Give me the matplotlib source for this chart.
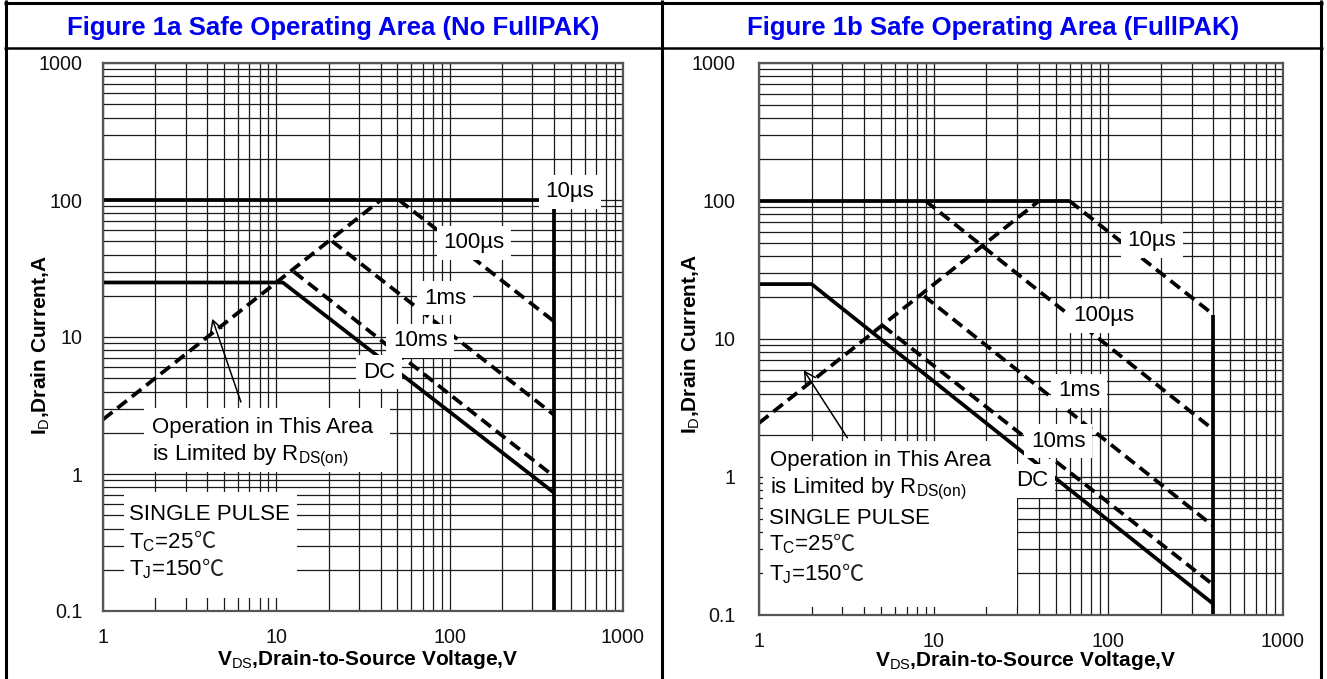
import numpy as np
import matplotlib
matplotlib.use("Agg")
import matplotlib.pyplot as plt
from matplotlib.lines import Line2D
from matplotlib.patches import Rectangle
from matplotlib.ticker import FixedLocator, LogLocator, NullFormatter
from matplotlib.offsetbox import TextArea, HPacker, AnnotationBbox

plt.rcParams['font.family'] = ['Liberation Sans', 'DejaVu Sans']
plt.rcParams['mathtext.fontset'] = 'custom'
plt.rcParams['mathtext.rm'] = 'Liberation Sans'
plt.rcParams['mathtext.it'] = 'Liberation Sans:italic'
plt.rcParams['mathtext.bf'] = 'Liberation Sans:bold'

# ---------------- data ----------------
titles = ["Figure 1a Safe Operating Area (No FullPAK)",
          "Figure 1b Safe Operating Area (FullPAK)"]
x_ticks = [1, 10, 100, 1000]
x_tick_labels = ["1", "10", "100", "1000"]
y_ticks = [0.1, 1, 10, 100, 1000]
y_tick_labels = ["0.1", "1", "10", "100", "1000"]
xlabel = r'V$_{\mathrm{DS}}$,Drain-to-Source Voltage,V'
ylabel = r'I$_{\mathrm{D}}$,Drain Current,A'

# Figure 1a (No FullPAK)
a_10us_v = [1, 400, 400]
a_10us_i = [100, 100, 0.1]
a_rds_v = [1, 40]
a_rds_i = [2.5, 100]
a_100us_v = [51, 400]
a_100us_i = [100, 13]
a_1ms_v = [21, 400]
a_1ms_i = [50, 2.7]
a_10ms_v = [12.6, 400]
a_10ms_i = [30, 0.96]
a_dc_v = [1, 10.9, 400]
a_dc_i = [25, 25, 0.73]

# Figure 1b (FullPAK)
b_10us_flat_v = [1, 60]
b_10us_flat_i = [100, 100]
b_10us_dash_v = [60, 400]
b_10us_dash_i = [100, 15]
b_vert_v = [400, 400]
b_vert_i = [15, 0.1]
b_rds_v = [1, 40]
b_rds_i = [2.46, 100]
b_100us_v = [9, 400]
b_100us_i = [100, 2.2]
b_1ms_v = [8.8, 400]
b_1ms_i = [20.5, 0.44]
b_10ms_v = [5.1, 400]
b_10ms_i = [12.5, 0.165]
b_dc_v = [1, 2, 400]
b_dc_i = [25, 25, 0.12]

# ---------------- style ----------------
W, H = 1327, 679
LW = 2.7
DASH = (3.2, 1.7)
FS_ANN = 16
FS_TICK = 14.2
FS_LAB = 15
FS_TITLE = 18.5
TITLE_COLOR = '#0000f0'

fig = plt.figure(figsize=(W / 100, H / 100), dpi=100)
fig.patch.set_facecolor('white')

ax1 = fig.add_axes([103 / W, 1 - 611 / H, 520 / W, 548 / H])
ax2 = fig.add_axes([759 / W, 1 - 615 / H, 524 / W, 552 / H])


def setup(ax, ypad, xlab_xy, ylab_xy):
    ax.set_xscale('log')
    ax.set_yscale('log')
    ax.set_xlim(1, 1000)
    ax.set_ylim(0.1, 1000)
    ax.xaxis.set_major_locator(FixedLocator(x_ticks))
    ax.yaxis.set_major_locator(FixedLocator(y_ticks))
    ax.set_xticklabels(x_tick_labels)
    ax.set_yticklabels(y_tick_labels)
    ax.xaxis.set_minor_locator(LogLocator(base=10, subs=np.arange(2, 10)))
    ax.yaxis.set_minor_locator(LogLocator(base=10, subs=np.arange(2, 10)))
    ax.xaxis.set_minor_formatter(NullFormatter())
    ax.yaxis.set_minor_formatter(NullFormatter())
    ax.tick_params(which='both', length=0, labelsize=FS_TICK, colors='#111111')
    ax.tick_params(axis='x', pad=12.5)
    ax.tick_params(axis='y', pad=ypad)
    ax.set_axisbelow(True)
    ax.grid(True, which='both', color='#1a1a1a', lw=0.9)
    for s in ax.spines.values():
        s.set_color('#555555')
        s.set_linewidth(1.6)
    ax.set_xlabel(xlabel, fontsize=FS_LAB, fontweight='bold')
    ax.set_ylabel(ylabel, fontsize=FS_LAB, fontweight='bold')
    ax.xaxis.set_label_coords(*xlab_xy)
    ax.yaxis.set_label_coords(*ylab_xy)
    ax.xaxis.label.set_va('center')
    ax.yaxis.label.set_va('center')


setup(ax1, 15, (0.508, -0.089), (-0.119, 0.485))
setup(ax2, 17, (0.508, -0.083), (-0.13, 0.491))


def solid(ax, v, i):
    ax.plot(v, i, color='black', lw=LW, solid_capstyle='butt', zorder=2)


def dashed(ax, v, i):
    ax.plot(v, i, color='black', lw=LW, linestyle=(0, DASH),
            dash_capstyle='butt', zorder=2)


def label(ax, x, y, s):
    ax.text(x, y, s, transform=ax.transAxes, ha='center', va='center',
            fontsize=FS_ANN, zorder=4,
            bbox=dict(boxstyle='square,pad=0.3', fc='white', ec='none'))


def whitebox(ax, x0, y0, x1, y1):
    ax.add_patch(Rectangle((x0, y0), x1 - x0, y1 - y0, transform=ax.transAxes,
                           fc='white', ec='none', zorder=1.5))


def temp_line(ax, x, y, s):
    t1 = TextArea(s, textprops=dict(fontsize=FS_ANN, color='black'))
    t2 = TextArea('\u2103', textprops=dict(fontsize=FS_ANN, color='#222222',
                                           family=['Noto Sans CJK SC']))
    box = HPacker(children=[t1, t2], align='baseline', pad=0, sep=0)
    ab = AnnotationBbox(box, (x, y), xycoords='axes fraction',
                        box_alignment=(0, 0), frameon=False, pad=0, zorder=5)
    ax.add_artist(ab)


ARROW = dict(arrowstyle='->,head_length=0.55,head_width=0.3',
             lw=1.1, color='black', mutation_scale=14)

# ----- Figure 1a -----
whitebox(ax1, 0.078, 0.254, 0.552, 0.370)
whitebox(ax1, 0.040, 0.024, 0.373, 0.217)
solid(ax1, a_10us_v, a_10us_i)
dashed(ax1, a_rds_v, a_rds_i)
dashed(ax1, a_100us_v, a_100us_i)
dashed(ax1, a_1ms_v, a_1ms_i)
dashed(ax1, a_10ms_v, a_10ms_i)
solid(ax1, a_dc_v, a_dc_i)
label(ax1, 0.898, 0.765, '10\u00b5s')
label(ax1, 0.713, 0.672, '100\u00b5s')
label(ax1, 0.658, 0.571, '1ms')
label(ax1, 0.610, 0.493, '10ms')
label(ax1, 0.531, 0.436, 'DC')
ax1.annotate('', xy=(4.22, 14.2), xytext=(6.32, 3.21), arrowprops=ARROW, zorder=3)
ax1.text(0.095, 0.325, 'Operation in This Area', transform=ax1.transAxes,
         fontsize=FS_ANN, va='baseline', ha='left', zorder=4)
ax1.text(0.095, 0.2755, r'is Limited by R$_{\mathrm{DS(on)}}$', transform=ax1.transAxes,
         fontsize=FS_ANN, va='baseline', ha='left', zorder=4)
ax1.text(0.050, 0.166, 'SINGLE PULSE', transform=ax1.transAxes,
         fontsize=FS_ANN, va='baseline', ha='left', zorder=4)
temp_line(ax1, 0.050, 0.104, r'T$_{\mathrm{C}}$=25')
temp_line(ax1, 0.050, 0.054, r'T$_{\mathrm{J}}$=150')

# ----- Figure 1b -----
whitebox(ax2, 0.008, 0.0145, 0.492, 0.315)
solid(ax2, b_10us_flat_v, b_10us_flat_i)
dashed(ax2, b_10us_dash_v, b_10us_dash_i)
solid(ax2, b_vert_v, b_vert_i)
dashed(ax2, b_rds_v, b_rds_i)
dashed(ax2, b_100us_v, b_100us_i)
dashed(ax2, b_1ms_v, b_1ms_i)
dashed(ax2, b_10ms_v, b_10ms_i)
solid(ax2, b_dc_v, b_dc_i)
label(ax2, 0.750, 0.678, '10\u00b5s')
label(ax2, 0.658, 0.542, '100\u00b5s')
label(ax2, 0.611, 0.406, '1ms')
label(ax2, 0.571, 0.315, '10ms')
label(ax2, 0.521, 0.243, 'DC')
ax2.annotate('', xy=(1.77, 6.16), xytext=(3.27, 1.85), arrowprops=ARROW, zorder=3)
ax2.text(0.021, 0.27, 'Operation in This Area', transform=ax2.transAxes,
         fontsize=FS_ANN, va='baseline', ha='left', zorder=4)
ax2.text(0.021, 0.221, r'is Limited by R$_{\mathrm{DS(on)}}$', transform=ax2.transAxes,
         fontsize=FS_ANN, va='baseline', ha='left', zorder=4)
ax2.text(0.019, 0.165, 'SINGLE PULSE', transform=ax2.transAxes,
         fontsize=FS_ANN, va='baseline', ha='left', zorder=4)
temp_line(ax2, 0.019, 0.106, r'T$_{\mathrm{C}}$=25')
temp_line(ax2, 0.019, 0.052, r'T$_{\mathrm{J}}$=150')

# ----- titles and table frame -----
fig.text(333.5 / W, 1 - 35 / H, titles[0], ha='center', va='baseline',
         fontsize=FS_TITLE, fontweight='bold', color=TITLE_COLOR)
fig.text(993 / W, 1 - 35 / H, titles[1], ha='center', va='baseline',
         fontsize=FS_TITLE, fontweight='bold', color=TITLE_COLOR)


def fline(x0, y0, x1, y1, lw=2.0):
    fig.add_artist(Line2D([x0 / W, x1 / W], [1 - y0 / H, 1 - y1 / H],
                          transform=fig.transFigure, color='black', lw=lw,
                          solid_capstyle='butt'))


fline(4, 3, 1323, 3, lw=2.2)
fline(4, 48, 1323, 48, lw=1.8)
fline(6, 0, 6, H, lw=2.2)
fline(662, 0, 662, H, lw=2.2)
fline(1321, 0, 1321, H, lw=2.2)

fig.savefig('out.png', dpi=100, facecolor='white')
